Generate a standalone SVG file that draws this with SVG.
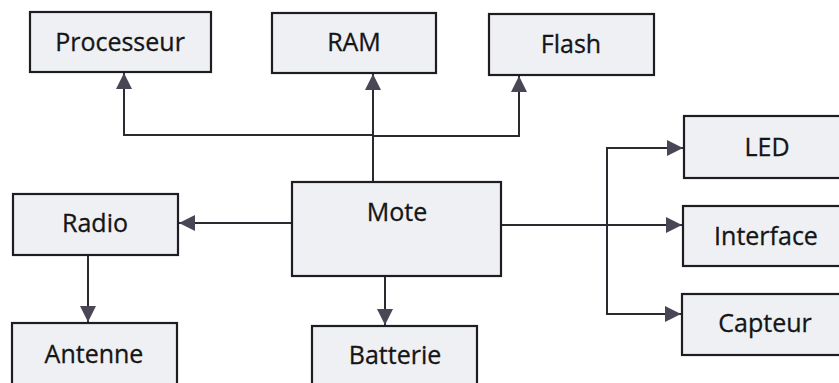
<svg xmlns="http://www.w3.org/2000/svg" width="839" height="383" viewBox="0 0 839 383">
<style>
.box{fill:#eef0f4;stroke:#1e1e22;stroke-width:2.2}
.lbl{font-family:"Open Sans","Noto Sans",sans-serif;font-size:25px;fill:#151515;text-anchor:middle;stroke:#151515;stroke-width:0.3}
.con{fill:none;stroke:#2a2a30;stroke-width:2}
</style>
<defs>
<marker id="ah" markerUnits="userSpaceOnUse" markerWidth="18" markerHeight="17" refX="16" refY="8" orient="auto">
<path d="M0,0 L16,8 L0,16 z" fill="#4a4656"/>
</marker>
</defs>
<rect width="839" height="383" fill="#ffffff"/>
<g id="connectors">
<path class="con" d="M373,182 V74" marker-end="url(#ah)"/>
<path class="con" d="M373,135 H124 V73" marker-end="url(#ah)"/>
<path class="con" d="M373,136 H519 V76" marker-end="url(#ah)"/>
<path class="con" d="M292,223 H179" marker-end="url(#ah)"/>
<path class="con" d="M88,255 V322" marker-end="url(#ah)"/>
<path class="con" d="M385,276 V325" marker-end="url(#ah)"/>
<path class="con" d="M501,225 H682" marker-end="url(#ah)"/>
<path class="con" d="M607,225 V148 H683" marker-end="url(#ah)"/>
<path class="con" d="M607,225 V314 H681" marker-end="url(#ah)"/>
</g>
<g id="processeur"><rect class="box" x="30" y="12" width="181" height="60"/><text class="lbl" x="120" y="51">Processeur</text></g>
<g id="ram"><rect class="box" x="272" y="13" width="164" height="60"/><text class="lbl" x="354" y="51">RAM</text></g>
<g id="flash"><rect class="box" x="489" y="14" width="165" height="61"/><text class="lbl" x="571" y="53">Flash</text></g>
<g id="mote"><rect class="box" x="292" y="182" width="209" height="94"/><text class="lbl" x="397" y="221">Mote</text></g>
<g id="radio"><rect class="box" x="13" y="194" width="165" height="61"/><text class="lbl" x="95" y="232">Radio</text></g>
<g id="antenne"><rect class="box" x="12" y="323" width="165" height="70"/><text class="lbl" x="94" y="363">Antenne</text></g>
<g id="batterie"><rect class="box" x="312" y="326" width="165" height="70"/><text class="lbl" x="395" y="364">Batterie</text></g>
<g id="led"><rect class="box" x="684" y="116" width="170" height="62"/><text class="lbl" x="767" y="156">LED</text></g>
<g id="interface"><rect class="box" x="683" y="206" width="170" height="60"/><text class="lbl" x="766" y="245">Interface</text></g>
<g id="capteur"><rect class="box" x="682" y="294" width="170" height="61"/><text class="lbl" x="765" y="332">Capteur</text></g>
</svg>
